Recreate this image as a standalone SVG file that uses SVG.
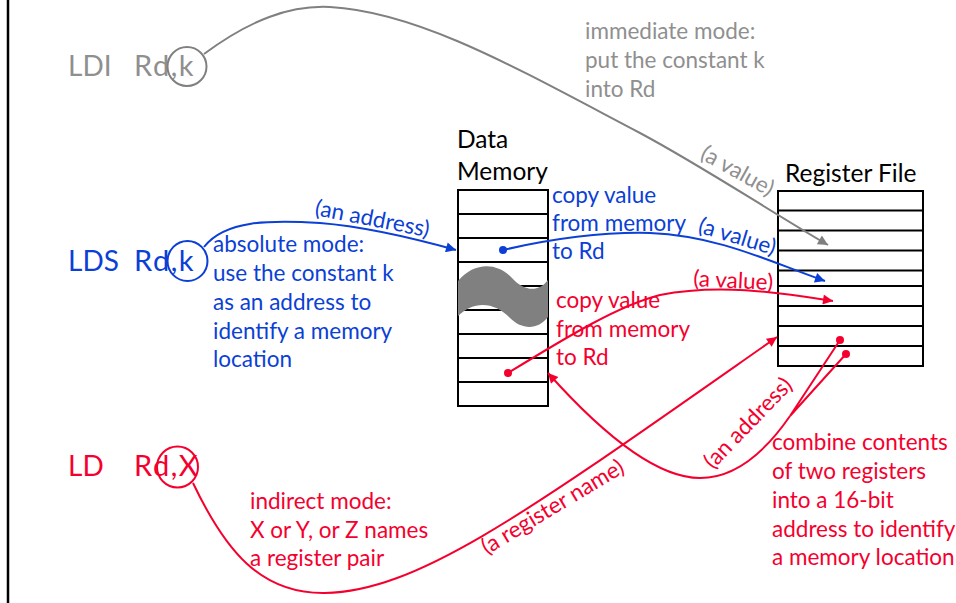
<svg xmlns="http://www.w3.org/2000/svg" width="956" height="603" viewBox="0 0 956 603">
<defs>
<style>
text{font-family:"Lato","Liberation Sans",sans-serif;font-size:22.5px}
.big{font-size:28px}
.rd{font-size:29px;letter-spacing:1.5px}
.lbl{font-size:24.5px}
.gray{fill:#8f8f8f}
.blue{fill:#0b3fd6}
.red{fill:#f5002e}
.blk{fill:#000}
.tbl{fill:#fff;stroke:#000;stroke-width:2}
.row{stroke:#000;stroke-width:2}
.cg{fill:none;stroke:#808080;stroke-width:2}
.cb{fill:none;stroke:#0b3fd6;stroke-width:2}
.cr{fill:none;stroke:#f5002e;stroke-width:2}
</style>
<marker id="ag" viewBox="0 0 10 10" refX="10" refY="5" markerWidth="12" markerHeight="10" markerUnits="userSpaceOnUse" orient="auto"><path d="M0,0L10,5L0,10z" fill="#808080"/></marker>
<marker id="ab" viewBox="0 0 10 10" refX="10" refY="5" markerWidth="12" markerHeight="10" markerUnits="userSpaceOnUse" orient="auto"><path d="M0,0L10,5L0,10z" fill="#0b3fd6"/></marker>
<marker id="ar" viewBox="0 0 10 10" refX="10" refY="5" markerWidth="12" markerHeight="10" markerUnits="userSpaceOnUse" orient="auto"><path d="M0,0L10,5L0,10z" fill="#f5002e"/></marker>
</defs>
<rect width="956" height="603" fill="#fff"/>
<line x1="8" y1="0" x2="8" y2="603" stroke="#000" stroke-width="2.5"/>

<g id="ldi">
<text x="68" y="76" class="big gray">LDI</text>
<text x="134" y="76" class="rd gray">Rd,k</text>
<circle cx="187" cy="66.5" r="19.5" class="cg"/>
</g>
<g id="lds">
<text x="68" y="271" class="big blue">LDS</text>
<text x="134" y="271" class="rd blue">Rd,k</text>
<circle cx="187.5" cy="261" r="20" class="cb"/>
</g>
<g id="ld">
<text x="68" y="476" class="big red">LD</text>
<text x="134" y="476" class="rd red">Rd,X</text>
<circle cx="177.5" cy="467" r="20.5" class="cr"/>
</g>

<g id="immediate-note" class="gray">
<text x="585" y="39">immediate mode:</text>
<text x="585" y="68">put the constant k</text>
<text x="585" y="97">into Rd</text>
</g>
<g id="absolute-note" class="blue">
<text x="213" y="252">absolute mode:</text>
<text x="213" y="281">use the constant k</text>
<text x="213" y="310">as an address to</text>
<text x="213" y="338.5">identify a memory</text>
<text x="213" y="367">location</text>
</g>
<g id="copy-blue" class="blue">
<text x="552" y="203">copy value</text>
<text x="552" y="231">from memory</text>
<text x="552" y="259">to Rd</text>
</g>
<g id="copy-red" class="red">
<text x="556" y="308">copy value</text>
<text x="556" y="336.5">from memory</text>
<text x="556" y="365">to Rd</text>
</g>
<g id="indirect-note" class="red">
<text x="250" y="509">indirect mode:</text>
<text x="250" y="538">X or Y, or Z names</text>
<text x="250" y="566">a register pair</text>
</g>
<g id="combine-note" class="red">
<text x="772" y="450">combine contents</text>
<text x="772" y="479">of two registers</text>
<text x="772" y="508">into a 16-bit</text>
<text x="772" y="537">address to identify</text>
<text x="772" y="565">a memory location</text>
</g>

<g id="data-memory">
<text x="457" y="148" class="blk lbl">Data</text>
<text x="457" y="180" class="blk lbl">Memory</text>
<rect x="458" y="190" width="90" height="216" class="tbl"/>
<path class="row" d="M458,214H548M458,238H548M458,262H548M458,286H548M458,310H548M458,334H548M458,358H548M458,382H548"/>
<path d="M458,281C474,262 497,262 512,278C524,291 538,293 548,280L548,317C538,330 522,330 510,318C495,302 474,300 458,316Z" fill="#808080"/>
</g>

<g id="register-file">
<text x="785" y="182" class="blk lbl">Register File</text>
<rect x="778" y="191" width="145" height="175" class="tbl"/>
<path class="row" d="M778,210.5H923M778,230.5H923M778,250.5H923M778,270.5H923M778,286H923M778,306H923M778,326H923M778,346H923"/>
</g>

<g id="connectors">
<path class="cg" d="M204,54C250,20 290,5 330,7C420,12 520,70 640,133C700,165 760,205 828,245" marker-end="url(#ag)"/>
<text x="699" y="158" class="gray" transform="rotate(29 699 158)">(a value)</text>

<path class="cb" d="M204,247C225,220 270,220 320,223C370,227 420,240 456,250" marker-end="url(#ab)"/>
<text x="314" y="215" class="blue" transform="rotate(11 314 215)">(an address)</text>

<circle cx="503" cy="250" r="4" fill="#0b3fd6"/>
<path class="cb" d="M503,250C560,237 610,232 650,233C720,236 770,262 825,281" marker-end="url(#ab)"/>
<text x="697" y="232" class="blue" transform="rotate(17 697 232)">(a value)</text>

<circle cx="508" cy="373" r="4" fill="#f5002e"/>
<path class="cr" d="M508,373C570,335 620,305 660,295C720,283 780,293 833,301" marker-end="url(#ar)"/>
<text x="693" y="286" class="red" transform="rotate(3 693 286)">(a value)</text>

<path class="cr" d="M193,483C225,550 260,594 325,593C420,591 530,510 777,337" marker-end="url(#ar)"/>
<text x="487" y="555" class="red" transform="rotate(-31 487 555)">(a register name)</text>

<circle cx="840" cy="340" r="4" fill="#f5002e"/>
<circle cx="846" cy="354" r="4" fill="#f5002e"/>
<path class="cr" d="M840,340L790,416M846,354L790,416"/>
<path class="cr" d="M790,416C770,445 740,478 700,478C650,478 590,420 548,373" marker-end="url(#ar)"/>
<text x="713" y="470" class="red" transform="rotate(-46 713 470)">(an address)</text>
</g>
</svg>
